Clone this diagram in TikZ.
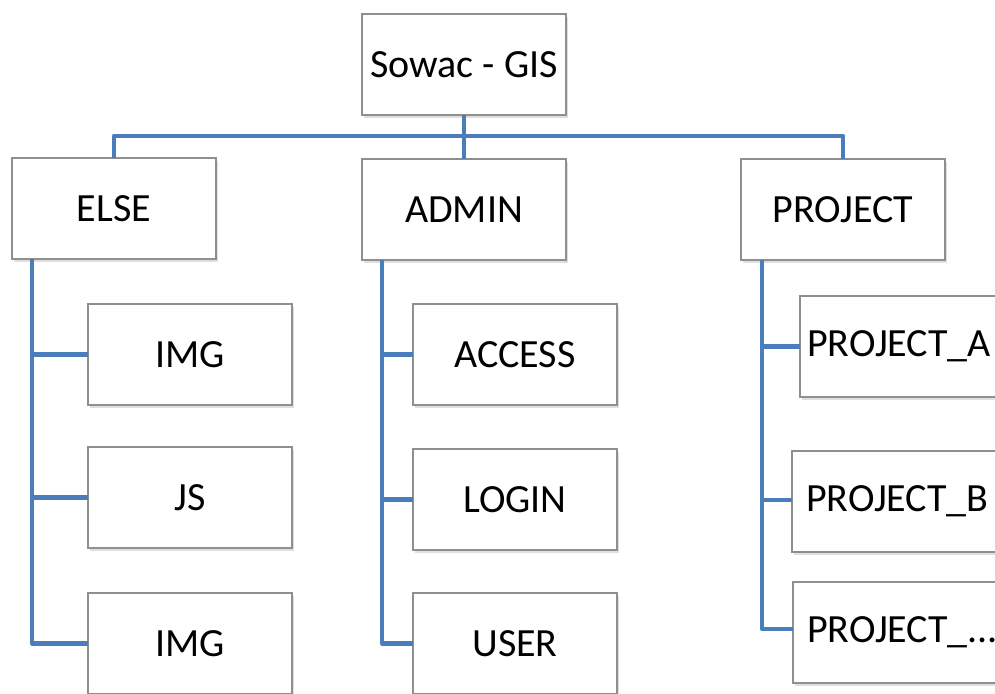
\documentclass[tikz,border=0pt]{standalone}
\usepackage{fontspec}
\setmainfont{Carlito}
\usetikzlibrary{shadows}
\definecolor{linkblue}{HTML}{4A7EBB}
\definecolor{boxedge}{HTML}{8F8F8F}
\tikzset{
  box/.style={draw=boxedge, line width=0.6pt, fill=white, anchor=north west,
    minimum width=102pt, minimum height=50.5pt, inner sep=0pt, outer sep=0pt,
    font=\fontsize{20}{24}\selectfont,
    drop shadow={opacity=0.25, shadow xshift=1.2pt, shadow yshift=-1.6pt}},
  leftbox/.style={box, text width=97pt, align=left, inner xsep=0pt},
  link/.style={draw=linkblue, line width=2.1pt, line join=round}
}
\begin{document}
\begin{tikzpicture}[x=0.5pt, y=-0.5pt]
\useasboundingbox (0,0) rectangle (995,693);
\clip (0,0) rectangle (995,693);

\coordinate (bus) at (463,136);

% root and first level
\node[box] (root) at (362,14) {Sowac - GIS};
\node[box] (else) at (12,158) {ELSE};
\node[box] (admin) at (362,159) {ADMIN};
\node[box] (project) at (741,159) {PROJECT};

% children of ELSE
\node[box] (img1) at (88,304) {IMG};
\node[box] (js) at (88,447) {JS};
\node[box] (img2) at (88,593) {IMG};

% children of ADMIN
\node[box] (access) at (413,304) {ACCESS};
\node[box] (login) at (413,449) {LOGIN};
\node[box] (user) at (413,593) {USER};

% children of PROJECT (wider than the visible area)
\node[leftbox, text width=98pt] (proja) at (800,296) {\hspace*{1.5pt}PROJECT\_A};
\node[leftbox] (projb) at (792,451) {\hspace*{4.5pt}PROJECT\_B};
\node[leftbox] (projc) at (793,582) {\hspace*{4.5pt}PROJECT\_...};

% tree links
\draw[link] (else.north) |- (bus) -| (project.north);
\draw[link] (root.south) -- (admin.north);

\coordinate (elsestem) at ([xshift=10pt]else.south west);
\draw[link] (elsestem) |- (img2.west);
\draw[link] (elsestem |- img1.west) -- (img1.west);
\draw[link] (elsestem |- js.west) -- (js.west);

\coordinate (adminstem) at ([xshift=10pt]admin.south west);
\draw[link] (adminstem) |- (user.west);
\draw[link] (adminstem |- access.west) -- (access.west);
\draw[link] (adminstem |- login.west) -- (login.west);

\coordinate (projstem) at ([xshift=10.5pt]project.south west);
\draw[link] (projstem) |- ([yshift=1.8pt]projc.west);
\draw[link] (projstem |- proja.west) -- (proja.west);
\draw[link] ([yshift=0.7pt]projstem |- projb.west) -- ([yshift=0.7pt]projb.west);
\end{tikzpicture}
\end{document}
